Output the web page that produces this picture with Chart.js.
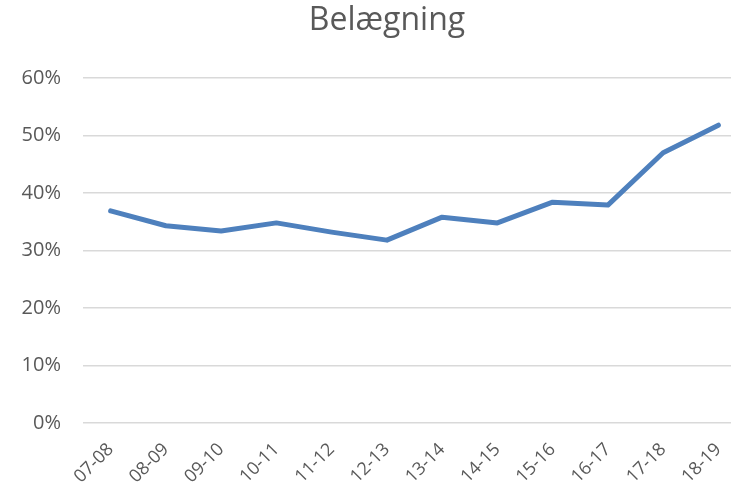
<!DOCTYPE html>
<html><head><meta charset="utf-8">
<script src="https://cdn.jsdelivr.net/npm/chart.js@4/dist/chart.umd.min.js"></script>
<style>html,body{margin:0;padding:0;overflow:hidden;background:#fff}#wrap{width:774px;height:493px}</style>
</head><body><div id="wrap"><canvas id="c" width="774" height="493"></canvas></div>
<script>
const chartTitle = "Belægning";
const categories = ["07-08","08-09","09-10","10-11","11-12","12-13","13-14","14-15","15-16","16-17","17-18","18-19"];
const occupancy = [36.9, 34.3, 33.4, 34.8, 33.2, 31.8, 35.8, 34.8, 38.4, 37.9, 47.0, 51.8];
const yTicks = [0, 10, 20, 30, 40, 50, 60];

const titlePlugin = {
  id: 'ttl',
  afterDraw(chart) {
    const ctx = chart.ctx;
    ctx.save();
    ctx.fillStyle = '#595959';
    ctx.font = '32px "Open Sans", sans-serif';
    ctx.textAlign = 'center';
    ctx.textBaseline = 'middle';
    ctx.fillText(chartTitle, chart.width / 2, 21);
    ctx.restore();
  }
};

new Chart(document.getElementById('c'), {
  type: 'line',
  data: {
    labels: categories,
    datasets: [{
      data: occupancy,
      borderColor: '#4E80BD',
      borderWidth: 5,
      pointRadius: 0,
      tension: 0,
      borderCapStyle: 'round',
      borderJoinStyle: 'round',
      fill: false
    }]
  },
  options: {
    responsive: false,
    animation: false,
    layout: { padding: { top: 78, right: 28, left: 0, bottom: 0 } },
    plugins: { legend: { display: false }, tooltip: { enabled: false } },
    scales: {
      x: {
        offset: true,
        grid: { display: false, drawTicks: false },
        border: { display: false },
        ticks: { color: '#595959', font: { family: '"Open Sans", sans-serif', size: 18 }, minRotation: 45, maxRotation: 45, padding: 16, autoSkip: false },
        afterFit(s) { s.height = 70; }
      },
      y: {
        min: 0, max: 60,
        afterBuildTicks(s) { s.ticks = yTicks.map(v => ({ value: v })); },
        grid: { color: '#D9D9D9', lineWidth: 1.5, drawTicks: false },
        border: { display: false },
        ticks: { color: '#595959', font: { family: '"Open Sans", sans-serif', size: 20 }, padding: 22, callback: v => v + '%' },
        afterFit(s) { s.width = 83; }
      }
    }
  },
  plugins: [titlePlugin]
});
</script></body></html>
